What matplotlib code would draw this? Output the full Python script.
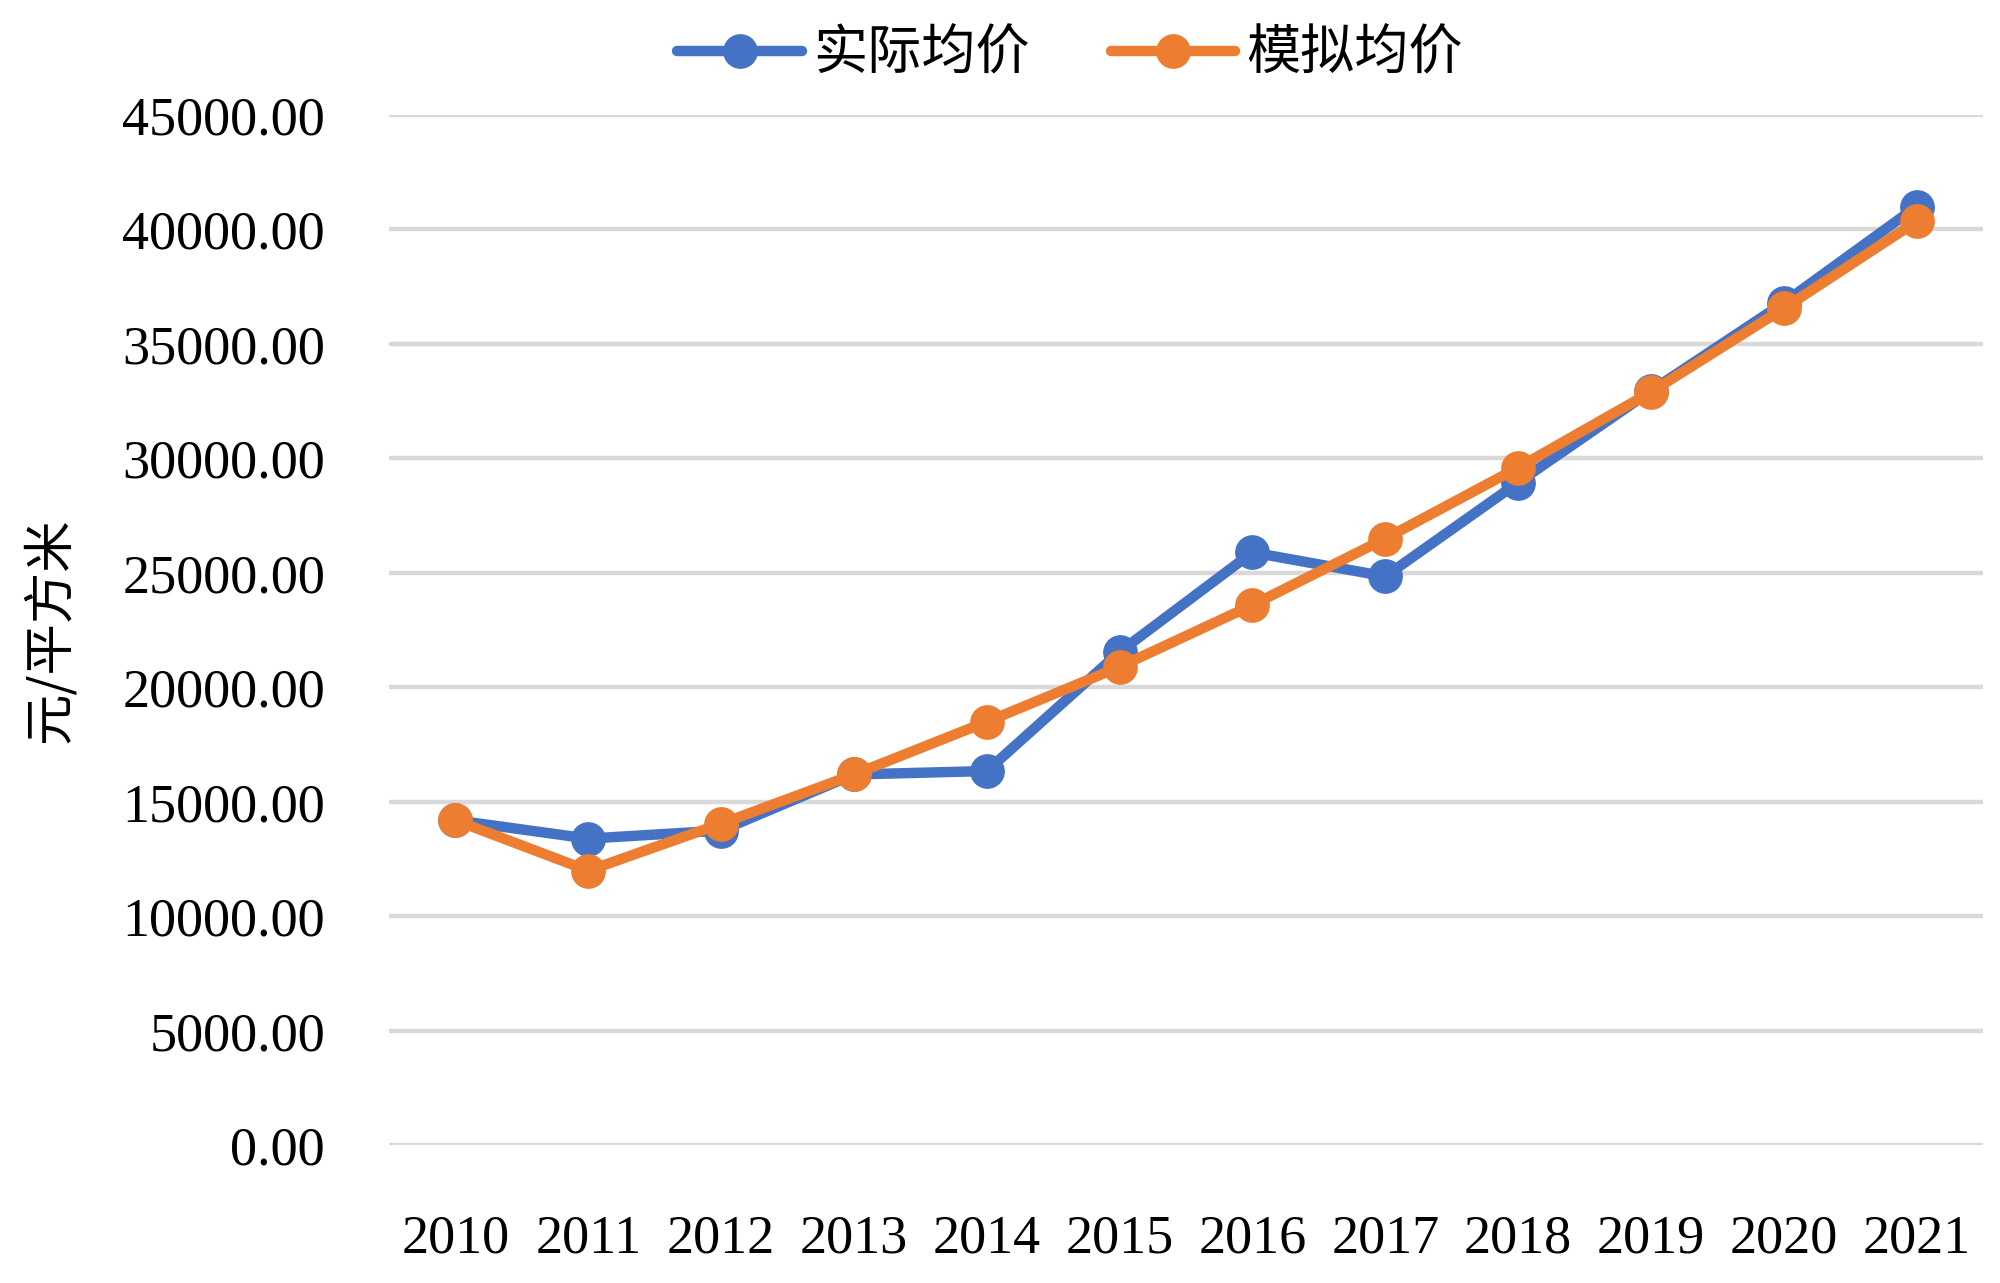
import numpy as np
import matplotlib
matplotlib.use("Agg")
import matplotlib.pyplot as plt

plt.rcParams['font.family'] = ['Liberation Serif', 'Noto Sans CJK SC']

# 数据
years = ["2010", "2011", "2012", "2013", "2014", "2015",
         "2016", "2017", "2018", "2019", "2020", "2021"]
actual = [14200, 13400, 13750, 16200, 16350, 21550,
          25900, 24850, 28950, 32950, 36800, 41000]
simulated = [14200, 12000, 14050, 16200, 18500, 20900,
             23600, 26500, 29600, 32900, 36550, 40350]
yticks = np.arange(0, 45001, 5000)

fig = plt.figure(figsize=(20, 12.83), dpi=100)
ax = fig.add_axes([0.1945, 0.1072, 0.797, 0.8032])

x = np.arange(len(years))
ax.plot(x, actual, color="#4472C4", linewidth=7.5, marker="o", markersize=24,
        solid_capstyle="round", label="实际均价", zorder=3)
ax.plot(x, simulated, color="#ED7D31", linewidth=7.5, marker="o", markersize=24,
        solid_capstyle="round", label="模拟均价", zorder=4)

ax.set_xlim(-0.5, len(years) - 0.5)
ax.set_ylim(0, 45000)
ax.set_yticks(yticks)
ax.set_yticklabels([f"{v:.2f}" for v in yticks])
ax.set_xticks(x)
ax.set_xticklabels(years)
ax.tick_params(axis="both", length=0, labelsize=39)
ax.tick_params(axis="y", pad=46)
ax.tick_params(axis="x", pad=49)
ax.grid(axis="y", color="#D9D9D9", linewidth=3.2)
ax.set_axisbelow(True)
for s in ax.spines.values():
    s.set_visible(False)

ax.set_ylabel("元/平方米", fontsize=37, family=['Noto Sans CJK SC'])
ax.yaxis.set_label_coords(-0.196, 0.5)

leg = fig.legend(loc="upper center", bbox_to_anchor=(0.535, 1.017), ncol=2,
                 frameon=False, prop={'family': 'Noto Sans CJK SC', 'size': 39},
                 handlelength=2.3, columnspacing=1.5, handletextpad=0.2)

fig.savefig("out.png", dpi=100)
